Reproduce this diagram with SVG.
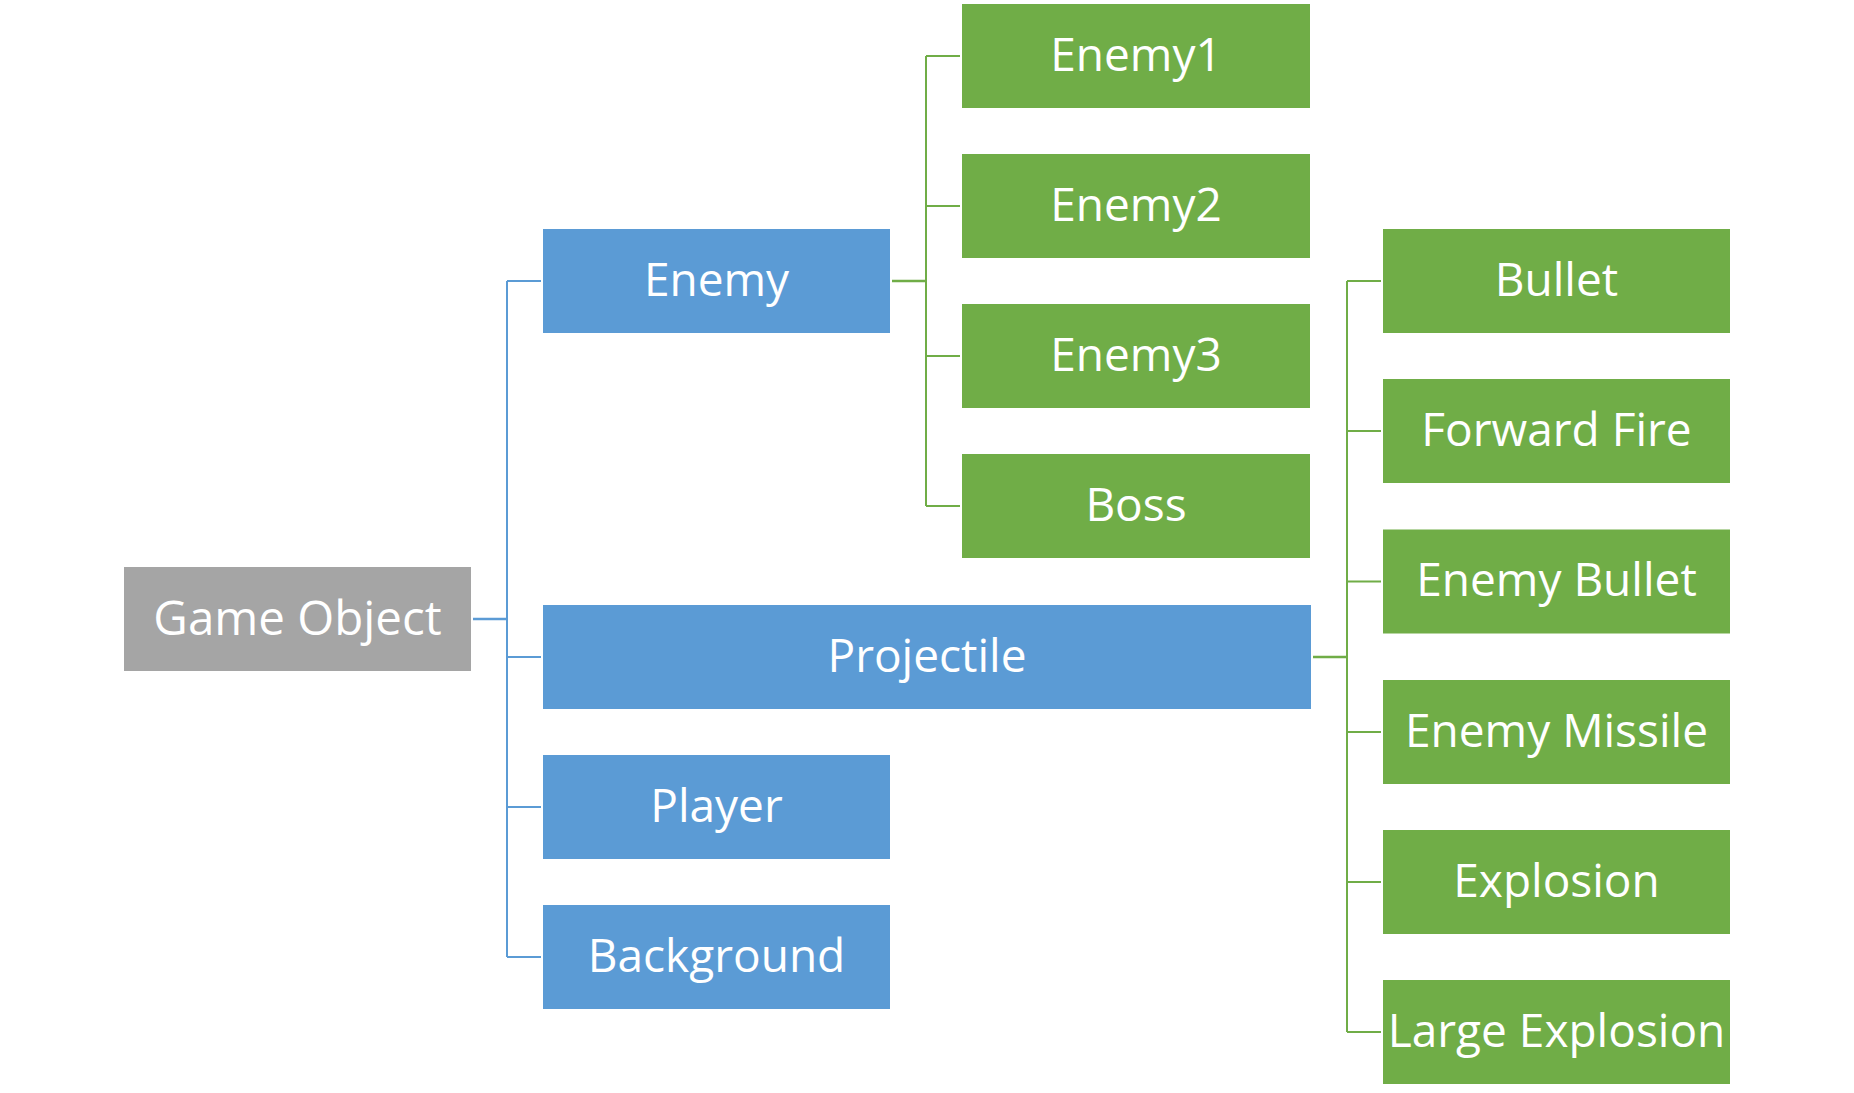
<svg xmlns="http://www.w3.org/2000/svg" width="1854" height="1093" viewBox="0 0 1854 1093">
<style>
.bg{fill:#FFFFFF}
.gray{fill:#A5A5A5}
.blue{fill:#5B9BD5}
.green{fill:#70AD47}
.t{font-family:"Open Sans","Liberation Sans",sans-serif;font-size:46px;fill:#FFFFFF;text-anchor:middle}
.big{font-size:47.5px}
.lb{fill:none;stroke:#5B9BD5;stroke-width:2}
.lg{fill:none;stroke:#70AD47;stroke-width:2}
.thick{stroke-width:2.6}
</style>
<rect class="bg" x="0" y="0" width="1854" height="1093"/>
<g id="connectors">
  <path class="lb thick" d="M473,619 H507"/>
  <path class="lb" d="M507,281 V957 M507,281 H541 M507,657 H541 M507,807 H541 M507,957 H541"/>
  <path class="lg thick" d="M892,281 H926"/>
  <path class="lg" d="M926,56 V506 M926,56 H960 M926,206 H960 M926,356 H960 M926,506 H960"/>
  <path class="lg thick" d="M1313,657 H1347"/>
  <path class="lg" d="M1347,281 V1032 M1347,281 H1381 M1347,431 H1381 M1347,581.5 H1381 M1347,732 H1381 M1347,882 H1381 M1347,1032 H1381"/>
</g>
<g id="game-object"><rect class="gray" x="124" y="567" width="347" height="104"/><text class="t big" x="297.5" y="634.5">Game Object</text></g>
<g id="enemy"><rect class="blue" x="543" y="229" width="347" height="104"/><text class="t" x="716.5" y="295.5">Enemy</text></g>
<g id="projectile"><rect class="blue" x="543" y="605" width="768" height="104"/><text class="t" x="927" y="671.5">Projectile</text></g>
<g id="player"><rect class="blue" x="543" y="755" width="347" height="104"/><text class="t" x="716.5" y="821.5">Player</text></g>
<g id="background"><rect class="blue" x="543" y="905" width="347" height="104"/><text class="t" x="716.5" y="971.5">Background</text></g>
<g id="enemy1"><rect class="green" x="962" y="4" width="348" height="104"/><text class="t" x="1136" y="70.5">Enemy1</text></g>
<g id="enemy2"><rect class="green" x="962" y="154" width="348" height="104"/><text class="t" x="1136" y="220.5">Enemy2</text></g>
<g id="enemy3"><rect class="green" x="962" y="304" width="348" height="104"/><text class="t" x="1136" y="370.5">Enemy3</text></g>
<g id="boss"><rect class="green" x="962" y="454" width="348" height="104"/><text class="t" x="1136" y="520.5">Boss</text></g>
<g id="bullet"><rect class="green" x="1383" y="229" width="347" height="104"/><text class="t" x="1556.5" y="295.5">Bullet</text></g>
<g id="forward-fire"><rect class="green" x="1383" y="379" width="347" height="104"/><text class="t" x="1556.5" y="445.5">Forward Fire</text></g>
<g id="enemy-bullet"><rect class="green" x="1383" y="529.5" width="347" height="104"/><text class="t" x="1556.5" y="596">Enemy Bullet</text></g>
<g id="enemy-missile"><rect class="green" x="1383" y="680" width="347" height="104"/><text class="t" x="1556.5" y="746.5">Enemy Missile</text></g>
<g id="explosion"><rect class="green" x="1383" y="830" width="347" height="104"/><text class="t" x="1556.5" y="896.5">Explosion</text></g>
<g id="large-explosion"><rect class="green" x="1383" y="980" width="347" height="104"/><text class="t" x="1556.5" y="1046.5">Large Explosion</text></g>
</svg>
